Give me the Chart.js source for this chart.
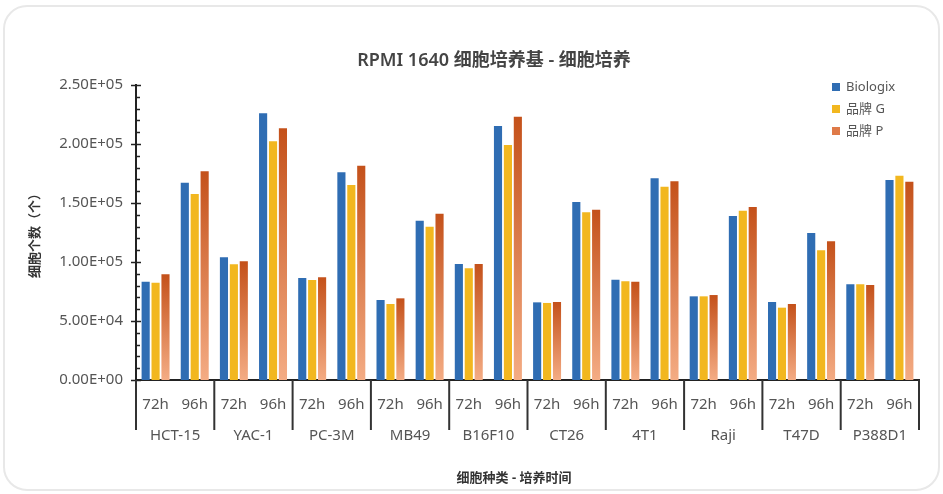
<!DOCTYPE html>
<html>
<head>
<meta charset="utf-8">
<script src="https://cdn.jsdelivr.net/npm/chart.js@4.4.1/dist/chart.umd.min.js"></script>
<style>
    body { margin: 0; background: #ffffff; }
    .card {
        position: absolute; left: 3px; top: 5px; width: 933px; height: 482px;
        border: 2px solid #e8e8e8; border-radius: 24px; background: #fff;
    }
    .chart-box { position: absolute; left: 0; top: 0; width: 943px; height: 494px; }
</style>
</head>
<body>
<div class="card"></div>
<div class="chart-box"><canvas id="cellChart"></canvas></div>
<script>
// Chart data
const cellLines = ['HCT-15', 'YAC-1', 'PC-3M', 'MB49', 'B16F10', 'CT26', '4T1', 'Raji', 'T47D', 'P388D1'];
const timePoints = ['72h', '96h'];
const seriesNames = ['Biologix', '品牌 G', '品牌 P'];

// values in order: cell line x (72h, 96h)
const biologix = [83300, 167200, 104000, 226000, 86400, 176000, 67800, 135000, 98300, 215300,
                  65800, 150800, 85000, 170900, 70900, 139000, 66100, 124600, 81100, 169500];
const brandG   = [82500, 157600, 98000, 202300, 84700, 165300, 64400, 129900, 94700, 199200,
                  65300, 142100, 83600, 163800, 70900, 143500, 61300, 109900, 81100, 173100];
const brandP   = [89600, 176900, 100600, 213300, 87000, 181600, 69200, 140900, 98300, 223100,
                  66100, 144300, 83300, 168400, 72000, 146600, 64400, 117500, 80500, 168000];

const yTickValues = [0, 50000, 100000, 150000, 200000, 250000];
const yTickLabels = ['0.00E+00', '5.00E+04', '1.00E+05', '1.50E+05', '2.00E+05', '2.50E+05'];

const chartTitle = 'RPMI 1640 细胞培养基 - 细胞培养';
const xTitle = '细胞种类 - 培养时间';
const yTitle = '细胞个数（个）';

const FONT = '"Noto Sans", "Noto Sans CJK SC", sans-serif';

// one sub label per bar group
const subLabels = [];
cellLines.forEach(() => timePoints.forEach(t => subLabels.push(t)));

// vertical gradient per bar (orange series)
function barGradient(top, bottom) {
    return function(context) {
        const chart = context.chart;
        const yScale = chart.scales.y;
        if (!chart.chartArea || !yScale || context.parsed === undefined) return bottom;
        const yTop = yScale.getPixelForValue(context.parsed.y);
        const yBase = yScale.getPixelForValue(0);
        const g = chart.ctx.createLinearGradient(0, yTop, 0, yBase);
        g.addColorStop(0, top);
        g.addColorStop(1, bottom);
        return g;
    };
}

const legendColors = ['#2f6db3', '#f2b71f', '#df7a48'];

// Extra drawing: minor ticks, category row, titles, legend
const decorPlugin = {
    id: 'decor',
    afterDraw(chart) {
        const ctx = chart.ctx;
        const area = chart.chartArea;
        const x = chart.scales.x;
        const y = chart.scales.y;
        ctx.save();

        // y axis ticks
        ctx.strokeStyle = '#222';
        ctx.lineWidth = 1.5;
        for (let v = 0; v <= 250000; v += 10000) {
            const py = Math.round(y.getPixelForValue(v)) + 0.5;
            const major = v % 50000 === 0;
            ctx.beginPath();
            ctx.moveTo(area.left - (major ? 5 : 0), py);
            ctx.lineTo(area.left + (major ? 5 : 4), py);
            ctx.stroke();
        }

        // category separators + names
        const half = (x.getPixelForValue(1) - x.getPixelForValue(0)) / 2;
        ctx.strokeStyle = '#333';
        ctx.lineWidth = 2;
        for (let i = 0; i <= cellLines.length; i++) {
            const px = i < cellLines.length ? x.getPixelForValue(i * 2) - half : x.getPixelForValue(i * 2 - 1) + half;
            ctx.beginPath();
            ctx.moveTo(px, area.bottom);
            ctx.lineTo(px, area.bottom + 50);
            ctx.stroke();
        }
        ctx.fillStyle = '#555';
        ctx.font = '15px ' + FONT;
        ctx.textAlign = 'center';
        ctx.textBaseline = 'middle';
        cellLines.forEach((name, i) => {
            const cx = (x.getPixelForValue(i * 2) + x.getPixelForValue(i * 2 + 1)) / 2;
            ctx.fillText(name, cx, area.bottom + 56);
        });

        // x axis title
        ctx.fillStyle = '#333';
        ctx.font = 'bold 13px ' + FONT;
        ctx.fillText(xTitle, 514, 478);

        // chart title
        ctx.fillStyle = '#444';
        ctx.font = '600 18px ' + FONT;
        ctx.fillText(chartTitle, 494, 61);

        // legend
        ctx.font = '13px ' + FONT;
        ctx.textAlign = 'left';
        seriesNames.forEach((name, i) => {
            const ly = 87 + i * 22;
            ctx.fillStyle = legendColors[i];
            ctx.fillRect(832, ly - 4, 8, 8);
            ctx.fillStyle = '#555';
            ctx.fillText(name, 846, ly);
        });
        ctx.restore();
    }
};

const ctx = document.getElementById('cellChart');
new Chart(ctx, {
    type: 'bar',
    data: {
        labels: subLabels,
        datasets: [
            { label: seriesNames[0], data: biologix, backgroundColor: '#2f6db3' },
            { label: seriesNames[1], data: brandG, backgroundColor: '#f2b71f' },
            { label: seriesNames[2], data: brandP, backgroundColor: barGradient('#c4511a', '#f4ac84') }
        ]
    },
    options: {
        responsive: true,
        maintainAspectRatio: false,
        animation: false,
        layout: { padding: { left: 27, right: 24, top: 85, bottom: 8 } },
        datasets: { bar: { categoryPercentage: 0.76, barPercentage: 0.82 } },
        plugins: {
            legend: { display: false },
            title: { display: false },
            tooltip: { enabled: false }
        },
        scales: {
            x: {
                grid: { display: false, drawTicks: false },
                border: { display: true, color: '#222', width: 2 },
                ticks: {
                    color: '#555',
                    font: { family: FONT, size: 15 },
                    padding: 16,
                    maxRotation: 0,
                    autoSkip: false
                },
                afterFit(scale) { scale.height = 106; }
            },
            y: {
                min: 0,
                max: 250000,
                grid: { display: false, drawTicks: false },
                border: { display: true, color: '#222', width: 2 },
                ticks: {
                    stepSize: 50000,
                    color: '#555',
                    padding: 13,
                    font: { family: FONT, size: 15 },
                    callback: (v) => yTickLabels[yTickValues.indexOf(v)]
                },
                title: {
                    display: true,
                    text: yTitle,
                    color: '#333',
                    font: { family: FONT, size: 13, weight: 'bold' },
                    padding: 0
                },
                afterFit(scale) { scale.width = 109; }
            }
        }
    },
    plugins: [decorPlugin]
});
</script>
</body>
</html>
